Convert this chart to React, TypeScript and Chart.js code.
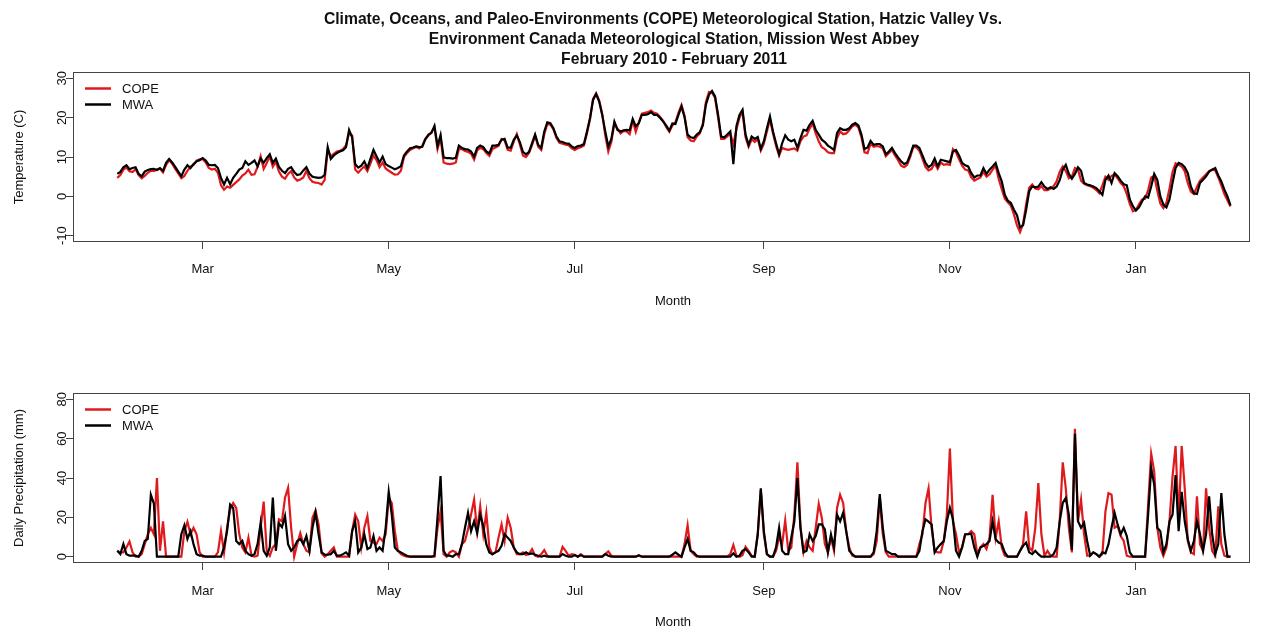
import { useEffect, useRef } from 'react';
import { Chart, registerables } from 'chart.js';

Chart.register(...registerables);

const FONT = "'Liberation Sans', Arial, Helvetica, sans-serif";

const titleLines = [
  'Climate, Oceans, and Paleo-Environments (COPE) Meteorological Station, Hatzic Valley Vs.',
  'Environment Canada Meteorological Station, Mission West Abbey',
  'February 2010 - February 2011',
];
const seriesLabels = ['COPE', 'MWA'];
const seriesColors = ['#e01a1c', '#000000'];

// day index 0 = 1 Feb 2010
const monthTickDays = [28, 89, 150, 212, 273, 334];
const monthTickLabels = ['Mar', 'May', 'Jul', 'Sep', 'Nov', 'Jan'];
const tempTicks = [-10, 0, 10, 20, 30];
const precipTicks = [0, 20, 40, 60, 80];

// daily mean temperature (C), 1 Feb 2010 - 1 Feb 2011
const copeTemp = [
  4.7, 5.4, 6.8, 7.3, 6.4, 6.2, 6.9, 5.4, 4.6, 5.2,
  6.0, 6.5, 6.4, 6.8, 7.0, 6.1, 8.0, 9.2, 8.3, 7.0,
  5.8, 4.6, 5.2, 6.5, 7.5, 8.0, 9.1, 9.4, 9.5, 8.6,
  7.2, 6.8, 7.0, 6.0, 2.8, 1.7, 2.5, 2.2, 2.9, 3.6,
  4.3, 5.3, 5.8, 6.8, 5.5, 5.6, 7.5, 10.2, 7.0, 8.5,
  10.2, 7.5, 8.8, 6.3, 5.0, 4.5, 5.7, 6.4, 4.8, 4.0,
  4.3, 4.8, 6.5, 4.6, 3.7, 3.5, 3.4, 3.0, 4.2, 11.8,
  10.2, 10.8, 11.4, 11.6, 12.0, 13.0, 16.0, 15.5, 6.8, 6.0,
  6.9, 7.6, 6.4, 8.3, 10.4, 9.2, 7.4, 8.6, 7.1, 6.5,
  6.0, 5.5, 5.6, 6.5, 10.0, 11.0, 11.8, 12.2, 12.6, 12.2,
  12.8, 14.6, 15.4, 16.3, 17.5, 12.0, 14.8, 8.6, 8.3, 8.2,
  8.3, 8.6, 12.0, 12.0, 11.5, 11.3, 10.8, 9.3, 11.7, 12.3,
  12.0, 11.0, 10.3, 12.0, 12.4, 12.8, 14.6, 14.2, 11.8, 11.6,
  13.9, 15.8, 13.2, 10.4, 10.0, 11.0, 13.0, 15.4, 12.6, 11.8,
  15.8, 18.4, 18.2, 17.0, 14.8, 13.6, 13.4, 13.1, 13.0, 12.2,
  11.8, 12.2, 12.5, 12.9, 16.0, 19.6, 24.8, 26.2, 24.4, 21.0,
  15.5, 11.4, 13.8, 18.6, 17.2, 16.0, 16.6, 16.5, 15.8, 19.2,
  16.4, 18.8, 21.0, 21.2, 21.4, 21.8, 21.2, 21.0, 20.2, 19.2,
  17.6, 16.4, 18.0, 18.8, 21.2, 23.2, 20.5, 15.0, 14.2, 14.0,
  15.2, 16.0, 18.5, 24.0, 26.5, 26.4, 25.0, 20.0, 14.6, 14.6,
  15.2, 16.0, 13.2, 17.0, 20.0, 21.5, 15.0, 12.6, 14.5, 13.8,
  14.6, 11.6, 13.4, 16.5, 19.6, 16.0, 12.8, 10.4, 12.3, 12.0,
  11.8, 12.0, 12.2, 11.6, 14.0, 15.2, 15.5, 17.2, 18.5, 16.0,
  14.0, 12.5, 12.0, 11.2, 11.0, 11.0, 14.8, 16.5, 15.8, 16.0,
  16.8, 17.8, 18.2, 17.5, 15.0, 11.2, 11.0, 13.4, 12.6, 12.8,
  12.6, 12.2, 10.2, 11.0, 11.8, 10.4, 9.2, 7.8, 7.4, 8.0,
  10.0, 12.6, 12.4, 11.6, 9.6, 7.4, 6.6, 7.0, 8.4, 7.0,
  8.6, 8.0, 8.2, 8.0, 12.0, 11.2, 9.4, 7.8, 6.8, 6.6,
  4.8, 4.0, 4.4, 4.8, 6.2, 5.0, 5.6, 6.8, 7.8, 4.4,
  1.8, -0.6, -1.5, -2.4, -4.6, -7.4, -9.1, -7.0, -2.0, 2.2,
  3.0, 2.0, 1.8, 2.6, 1.6, 1.6, 2.0, 2.6, 3.8, 6.2,
  7.6, 6.4, 4.6, 5.0, 7.2, 6.8, 4.0, 3.2, 2.8, 2.6,
  2.2, 1.6, 0.8, 2.8, 5.0, 4.2, 5.2, 5.6, 4.6, 3.4,
  2.6, 0.6, -2.0, -3.8, -3.4, -2.0, -0.8, -0.6, 1.6, 4.8,
  5.2, 1.4, -1.8, -3.0, -1.6, 2.0, 6.2, 8.4, 8.0, 7.6,
  6.4, 3.4, 1.2, 0.6, 2.4, 4.0, 4.8, 5.6, 6.4, 6.8,
  6.6, 4.8, 2.8, 0.6, -1.0, -2.6,
];

const mwaTemp = [
  5.7, 6.2, 7.4, 7.9, 6.9, 7.2, 7.4, 5.7, 5.1, 6.3,
  6.7, 6.9, 7.0, 6.7, 7.2, 6.5, 8.5, 9.5, 8.6, 7.5,
  6.3, 5.1, 6.8, 7.9, 7.2, 8.2, 8.9, 9.2, 9.7, 9.1,
  8.0, 7.9, 8.0, 7.2, 4.7, 3.0, 4.7, 3.1, 4.7, 5.7,
  6.8, 7.2, 8.9, 8.0, 8.5, 9.1, 7.6, 9.6, 8.5, 9.7,
  10.7, 8.5, 9.6, 7.5, 6.5, 5.9, 7.0, 7.4, 6.2, 5.4,
  5.6, 6.6, 7.4, 5.8, 5.0, 4.8, 4.7, 4.8, 5.5, 12.5,
  9.5, 10.4, 11.0, 11.4, 11.7, 12.5, 16.9, 15.0, 8.2, 7.3,
  7.8, 8.9, 7.2, 9.5, 11.8, 10.2, 8.6, 10.1, 8.2, 7.7,
  7.3, 6.9, 7.2, 7.7, 10.4, 11.4, 12.2, 12.4, 12.7, 12.5,
  12.6, 14.5, 15.7, 16.1, 17.9, 12.8, 15.6, 9.9, 9.7, 9.7,
  9.6, 9.8, 12.9, 12.3, 12.0, 11.9, 11.4, 10.1, 12.3, 12.9,
  12.5, 11.4, 10.9, 12.9, 12.9, 13.1, 14.4, 14.6, 12.4, 12.4,
  14.4, 15.5, 13.8, 11.3, 10.7, 11.3, 13.5, 15.7, 13.1, 12.3,
  16.5, 18.8, 18.6, 17.3, 15.2, 14.0, 13.8, 13.5, 13.4, 12.7,
  12.3, 12.8, 12.9, 13.3, 16.5, 19.9, 24.5, 26.0, 24.1, 20.7,
  16.5, 12.7, 14.6, 19.0, 16.9, 16.5, 16.8, 16.9, 16.8, 19.7,
  17.8, 18.6, 20.7, 20.7, 20.9, 21.4, 20.7, 20.7, 19.9, 19.0,
  18.0, 16.7, 18.5, 18.4, 20.7, 22.8, 20.1, 15.7, 15.0, 14.8,
  15.7, 16.3, 18.0, 23.3, 25.8, 26.8, 25.4, 20.7, 15.2, 15.0,
  15.7, 16.5, 8.2, 17.8, 20.7, 22.0, 15.7, 13.1, 15.2, 14.6,
  15.1, 12.1, 14.0, 17.3, 20.3, 16.5, 13.5, 10.7, 13.5, 15.5,
  14.4, 14.0, 14.4, 12.3, 14.8, 16.9, 16.7, 18.2, 19.2, 16.9,
  15.7, 14.4, 13.8, 12.9, 12.4, 11.8, 16.1, 17.3, 16.9, 16.9,
  17.3, 18.2, 18.6, 18.0, 15.7, 12.0, 12.4, 14.1, 13.1, 13.3,
  13.3, 12.7, 10.7, 11.4, 12.3, 11.0, 9.9, 8.9, 8.2, 8.6,
  10.6, 12.9, 12.9, 12.3, 10.4, 8.5, 7.4, 8.0, 9.6, 7.6,
  9.3, 9.1, 8.9, 8.7, 11.4, 11.8, 10.4, 8.5, 7.9, 7.6,
  5.9, 4.8, 5.3, 5.3, 7.2, 5.7, 6.8, 7.6, 8.5, 5.9,
  3.8, 0.4, -1.1, -1.7, -3.4, -4.8, -7.9, -7.3, -3.4, 1.3,
  2.5, 2.3, 2.5, 3.6, 2.5, 1.9, 2.3, 1.9, 2.5, 4.1,
  6.8, 8.0, 5.7, 4.5, 5.7, 7.4, 6.5, 3.4, 3.0, 2.8,
  2.5, 2.1, 1.3, 0.4, 4.2, 5.3, 3.4, 5.9, 5.1, 4.0,
  3.1, 2.8, -0.8, -2.5, -3.6, -2.8, -1.3, 0.0, -0.3, 2.5,
  5.7, 4.2, 0.0, -2.1, -2.8, -0.8, 3.4, 7.2, 8.5, 8.2,
  7.4, 5.9, 2.5, 0.8, 0.6, 3.4, 4.2, 5.1, 6.3, 6.8,
  7.2, 5.3, 3.8, 1.7, 0.0, -2.3,
];

// daily precipitation (mm), same days
const copePrecip = [
  3, 2.2, 2.2, 4.7, 7.7, 2.2, 0, 0, 1.3, 6.4,
  11.4, 14.7, 11.4, 40, 3, 18, 0, 0, 0, 0,
  0, 0, 13, 17.8, 11.4, 14.7, 11.4, 2.2, 0, 0,
  0, 0, 0, 2.2, 13, 2.2, 14.7, 24, 27.3, 24.8,
  11.4, 4.7, 2.2, 9.7, 0.5, 0, 0.5, 14.7, 28, 3,
  0.5, 4.7, 6.4, 19, 18, 30, 35, 14.7, 0, 6.4,
  12, 6.4, 3, 2.2, 19.8, 23.5, 16.4, 1.7, 0, 1.3,
  3, 4.7, 0, 0, 0, 0, 0, 13, 21.4, 18,
  4.7, 14.7, 20.6, 8, 7.2, 6.4, 9.7, 8, 11.4, 30,
  27.3, 13, 3, 1.3, 0.5, 0, 0, 0, 0, 0,
  0, 0, 0, 0, 0, 14.7, 23, 1.3, 0, 2.2,
  3, 2.2, 0, 6.4, 8, 14, 21.4, 29, 13, 25.6,
  11.4, 22.3, 4.7, 1.3, 2.2, 9.7, 16.4, 8, 19.8, 14.7,
  4.7, 1.3, 1.3, 2.2, 0.8, 1.3, 3.9, 0.5, 0, 1.3,
  3.4, 0.5, 0, 0, 0, 0, 5, 3, 0.5, 1.3,
  1, 0, 1.3, 0, 0, 0, 0, 0, 0, 0,
  1.3, 2.7, 0.5, 0, 0, 0, 0, 0, 0, 0,
  0, 0.5, 0, 0, 0, 0, 0, 0, 0, 0,
  0, 0, 0, 0, 0, 0, 6.4, 16, 3, 1.3,
  0, 0, 0, 0, 0, 0, 0, 0, 0, 0,
  0, 1.3, 6, 0.5, 0, 0.8, 5, 3, 0.5, 0,
  11.4, 34, 11.4, 1.3, 0, 0, 3, 9.7, 6.4, 18.4,
  3, 4.7, 21.4, 48, 15.6, 2.2, 8, 4.7, 3, 14.7,
  26.8, 19.8, 6.4, 2.2, 9.7, 3, 24.8, 31.5, 27.3, 13,
  4.7, 0.5, 0, 0, 0, 0, 0, 0, 1.3, 8,
  29.8, 11.4, 2.2, 0, 0, 0, 0, 0, 0, 0,
  0, 0, 0, 6.4, 11.4, 27.3, 34.8, 14.7, 3, 2.2,
  2.2, 8, 21.4, 55, 18, 11.4, 2.2, 4.7, 11.4, 11.4,
  13, 11.4, 1.3, 4.7, 6.4, 3.9, 9.7, 31.5, 9.7, 18,
  4.7, 0.5, 0, 0, 0, 0, 3, 6.4, 23, 4.7,
  3, 14.7, 37.4, 11.4, 0.5, 3, 0.5, 0, 0, 18,
  48, 34.8, 14.7, 2.2, 65, 18, 29, 11.4, 0.5, 0.5,
  2.2, 1.3, 0, 1.3, 23, 32.3, 31.5, 14.7, 15.6, 10.5,
  8, 0.5, 0, 0, 0, 0, 0, 0, 26.5, 52.4,
  43.2, 14.7, 4.7, 0.5, 4.7, 18, 40.7, 56.3, 18, 56.3,
  34.8, 8, 2.2, 1.3, 30.7, 6.4, 3, 34.8, 14.7, 3,
  0.5, 25.6, 6.4, 0.5, 0, 0,
];

const mwaPrecip = [
  3, 1.3, 6.4, 1.3, 0.5, 0.5, 0.5, 0, 3, 8,
  9, 31.5, 27, 0, 0, 0, 0, 0, 0, 0,
  0, 11.4, 16, 9, 13, 6.4, 1.3, 0.5, 0.5, 0,
  0, 0, 0, 0, 0, 4.7, 13, 26.5, 24.8, 8,
  6.4, 8, 3, 1.3, 0.5, 1.3, 6.4, 17.2, 3, 0.5,
  4.7, 30, 3, 17, 15, 20.6, 6.4, 3, 4.7, 8,
  9, 6.4, 10.5, 3, 14.7, 22.3, 11.4, 2.2, 1, 1,
  1.3, 3, 0.5, 0.5, 1.3, 2.2, 0.5, 13, 18, 2.2,
  4.7, 11.4, 3.9, 4.7, 10.5, 3, 4.7, 3, 14.7, 33,
  21.4, 4.7, 3, 2.2, 1.3, 0.5, 0, 0, 0, 0,
  0, 0, 0, 0, 0.5, 20, 41, 3, 0.5, 0.5,
  0, 1.3, 1.3, 6.4, 14.7, 22.3, 13, 18, 12, 21.4,
  15.6, 6.4, 2.2, 1.3, 2.2, 3, 5.5, 11.4, 9.7, 8,
  4.7, 2.2, 1.3, 1.3, 2.2, 1.3, 1.7, 1, 0.5, 0,
  0.5, 0, 0, 0, 0, 0, 1.3, 0.5, 0, 0,
  0.8, 0, 0.8, 0, 0, 0, 0, 0, 0, 0,
  1.3, 0.5, 0, 0, 0, 0, 0, 0, 0, 0,
  0, 0.8, 0, 0, 0, 0, 0, 0, 0, 0,
  0, 0, 1, 2.2, 1, 0, 4.7, 8.9, 3, 2.2,
  0.5, 0, 0, 0, 0, 0, 0, 0, 0, 0,
  0, 0, 1.7, 0, 0.5, 3, 3.9, 2.2, 0, 0,
  11.4, 34.8, 13, 1.3, 0, 0, 4.7, 14.7, 3, 1.3,
  1.3, 9.7, 18, 40, 14.7, 2.2, 3, 11.4, 8, 10.5,
  16.4, 16.4, 13.9, 2.2, 11.4, 4.7, 21.4, 18, 22.3, 13,
  3, 1.3, 0, 0, 0, 0, 0, 0, 2.2, 13,
  31.8, 14.7, 3, 2.2, 1.3, 1.3, 0, 0, 0, 0,
  0, 0, 0, 3, 13, 19, 17.8, 16.4, 2.2, 4.7,
  6.4, 8, 18, 24.8, 19, 3, 0, 4.7, 11.4, 11.4,
  11.7, 4.7, 0, 4.7, 5.5, 6.4, 8, 18, 8.9, 7.2,
  6.4, 2.2, 0, 0, 0, 0, 3, 5.5, 7.2, 2.2,
  1.3, 3, 1.3, 0, 0, 0, 0, 1.3, 4.7, 18,
  27.3, 29.8, 21.4, 3.4, 62.5, 18, 14.7, 17.2, 8, 0.5,
  2.2, 1.3, 0, 2.2, 1.7, 6.4, 14.7, 22.3, 16.4, 11.4,
  14.7, 10.5, 2.2, 0, 0, 0, 0, 0, 21.4, 45,
  36.5, 14.7, 13, 2.2, 6.4, 18, 21.4, 41.5, 13, 33,
  18, 8.9, 3, 8, 18, 11.4, 3, 11.4, 30.7, 11.4,
  1.3, 6.4, 32.3, 11.4, 0, 0,
];

const X_MIN = -14.52;
const X_MAX = 371.4;
const AXIS_COLOR = '#444';
const TEXT_COLOR = '#111';

// plot frame around the chart area
const framePlugin = {
  id: 'frame',
  afterDraw(chart: any) {
    const { ctx, chartArea: a } = chart;
    ctx.save();
    ctx.strokeStyle = AXIS_COLOR;
    ctx.lineWidth = 1;
    ctx.strokeRect(
      Math.round(a.left) + 0.5,
      Math.round(a.top) + 0.5,
      Math.round(a.right - a.left) - 1,
      Math.round(a.bottom - a.top) - 1,
    );
    ctx.restore();
  },
};

// line-sample legend in the top-left corner of the plot
const lineLegendPlugin = {
  id: 'lineLegend',
  afterDraw(chart: any, _args: any, opts: any) {
    const { ctx, chartArea: a } = chart;
    ctx.save();
    ctx.font = `13px ${FONT}`;
    ctx.textBaseline = 'middle';
    ctx.textAlign = 'left';
    chart.data.datasets.forEach((ds: any, i: number) => {
      const x = a.left + opts.left;
      const y = a.top + opts.top + i * opts.spacing;
      ctx.strokeStyle = ds.borderColor;
      ctx.lineWidth = 2.5;
      ctx.beginPath();
      ctx.moveTo(x, y);
      ctx.lineTo(x + opts.lineLength, y);
      ctx.stroke();
      ctx.fillStyle = TEXT_COLOR;
      ctx.fillText(ds.label, x + opts.lineLength + opts.gap, y + 1);
    });
    ctx.restore();
  },
};

// heading lines and the x-axis caption
const captionPlugin = {
  id: 'captions',
  afterDraw(chart: any, _args: any, opts: any) {
    const { ctx, chartArea: a } = chart;
    ctx.save();
    ctx.textAlign = 'center';
    ctx.textBaseline = 'middle';
    ctx.fillStyle = TEXT_COLOR;
    if (opts.heading) {
      ctx.font = `bold ${opts.heading.size}px ${FONT}`;
      opts.heading.lines.forEach((t: string, i: number) => {
        ctx.fillText(t, opts.heading.centers[i], opts.heading.y0 + i * opts.heading.gap);
      });
    }
    if (opts.xTitle) {
      ctx.font = `13px ${FONT}`;
      ctx.fillText(opts.xTitle.text, opts.xTitle.center, a.bottom + opts.xTitle.offset);
    }
    ctx.restore();
  },
};

function panelConfig(
  cope: number[],
  mwa: number[],
  yTicks: number[],
  yMin: number,
  yMax: number,
  yTitle: string,
  yLabelPadding: number,
  bottomPad: number,
  xTickPadding: number,
  captions: any,
) {
  return {
    type: 'line',
    data: {
      datasets: [
        {
          label: seriesLabels[0],
          data: cope.map((v, i) => ({ x: i, y: v })),
          borderColor: seriesColors[0],
          borderWidth: 2.2,
          pointRadius: 0,
          tension: 0,
          order: 2,
        },
        {
          label: seriesLabels[1],
          data: mwa.map((v, i) => ({ x: i, y: v })),
          borderColor: seriesColors[1],
          borderWidth: 2.2,
          pointRadius: 0,
          tension: 0,
          order: 1,
        },
      ],
    },
    options: {
      responsive: false,
      animation: false,
      events: [],
      layout: { padding: { left: 0, right: 17, top: 72, bottom: bottomPad } },
      plugins: {
        legend: { display: false },
        tooltip: { enabled: false },
        lineLegend: { left: 12, top: 16.5, spacing: 16, lineLength: 26, gap: 11 },
        captions,
      },
      scales: {
        x: {
          type: 'linear',
          min: X_MIN,
          max: X_MAX,
          afterFit: (s: any) => {
            s.height = 66;
          },
          afterBuildTicks: (s: any) => {
            s.ticks = monthTickDays.map((v) => ({ value: v }));
          },
          ticks: {
            autoSkip: false,
            maxRotation: 0,
            minRotation: 0,
            padding: xTickPadding,
            color: TEXT_COLOR,
            font: { family: FONT, size: 13 },
            callback: (_v: any, i: number) => monthTickLabels[i],
          },
          grid: {
            drawOnChartArea: false,
            drawTicks: true,
            tickLength: 7,
            tickColor: AXIS_COLOR,
            lineWidth: 1,
          },
          border: { display: false },
          title: { display: false },
        },
        y: {
          type: 'linear',
          min: yMin,
          max: yMax,
          afterFit: (s: any) => {
            s.width = 73;
          },
          afterBuildTicks: (s: any) => {
            s.ticks = yTicks.map((v) => ({ value: v }));
          },
          ticks: {
            minRotation: 90,
            maxRotation: 90,
            crossAlign: 'center',
            padding: yLabelPadding,
            color: TEXT_COLOR,
            font: { family: FONT, size: 13 },
            callback: (v: any) => String(v),
          },
          grid: {
            drawOnChartArea: false,
            drawTicks: true,
            tickLength: 7,
            tickColor: AXIS_COLOR,
            lineWidth: 1,
          },
          border: { display: false },
          title: {
            display: true,
            text: yTitle,
            color: TEXT_COLOR,
            font: { family: FONT, size: 13 },
            padding: { top: 12, bottom: 0 },
          },
        },
      },
    },
    plugins: [framePlugin, lineLegendPlugin, captionPlugin],
  };
}

export default function App() {
  const topRef = useRef<HTMLCanvasElement>(null);
  const bottomRef = useRef<HTMLCanvasElement>(null);

  useEffect(() => {
    const tempChart = new Chart(
      topRef.current as HTMLCanvasElement,
      panelConfig(copeTemp, mwaTemp, tempTicks, -11.6, 31.6, 'Temperature (C)', -5.5, 12, 13, {
        heading: {
          lines: titleLines,
          size: 15.7,
          centers: [663, 674, 674],
          y0: 19.5,
          gap: 20.2,
        },
        xTitle: { text: 'Month', center: 673, offset: 59 },
      }) as any,
    );
    const precipChart = new Chart(
      bottomRef.current as HTMLCanvasElement,
      panelConfig(copePrecip, mwaPrecip, precipTicks, -3.2, 83.2, 'Daily Precipitation (mm)', -3.5, 0, 14, {
        xTitle: { text: 'Month', center: 673, offset: 59 },
      }) as any,
    );
    return () => {
      tempChart.destroy();
      precipChart.destroy();
    };
  }, []);

  return (
    <div
      style={{
        position: 'absolute',
        left: 0,
        top: 0,
        width: 1267,
        height: 629,
        background: '#ffffff',
        overflow: 'hidden',
      }}
    >
      <canvas ref={topRef} width={1267} height={320} style={{ position: 'absolute', left: 0, top: 0 }} />
      <canvas ref={bottomRef} width={1267} height={308} style={{ position: 'absolute', left: 0, top: 321 }} />
    </div>
  );
}
